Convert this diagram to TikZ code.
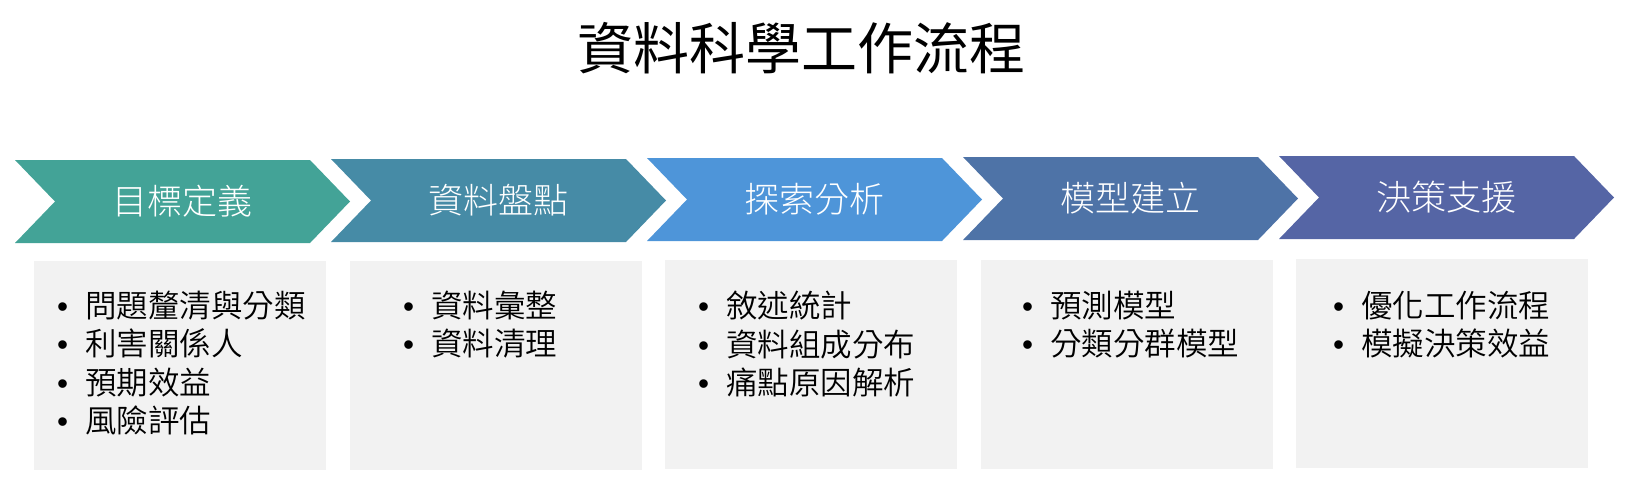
\documentclass[tikz,border=0pt]{standalone}
\usepackage{fontspec}
\setmainfont{Noto Sans CJK TC}
\newfontfamily\lightcjk{Noto Sans CJK TC Light}
\newfontfamily\demicjk{Noto Sans CJK TC DemiLight}
\newfontfamily\bulletfont{Liberation Sans}
\usepackage{xcolor}
\usepackage{tikz}
\usetikzlibrary{positioning, calc}
\definecolor{goalteal}{HTML}{43A397}
\definecolor{datablue}{HTML}{468BA6}
\definecolor{edasky}{HTML}{4E95D9}
\definecolor{modelblue}{HTML}{4E73A7}
\definecolor{decisionblue}{HTML}{5565A5}
\definecolor{boxgray}{HTML}{F2F2F2}
\newcommand{\itembullet}{\makebox[28pt][l]{\bulletfont •}}

\begin{document}
\begin{tikzpicture}[x=1pt, y=-1pt,
    chevlabel/.style={text=white, inner sep=0pt, font=\lightcjk\fontsize{35}{40}\selectfont},
    itemtext/.style={anchor=north west, align=left, inner sep=0pt,
                     font=\demicjk\fontsize{31.5}{38.3}\selectfont}]
    \useasboundingbox (0,0) rectangle (1637,485);
    \node[inner sep=0pt, font=\fontsize{56}{60}\selectfont] (title) at (801,48) {資料科學工作流程};
    % steps
    \foreach \i/\name/\col/\lab in {0/goal/goalteal/目標定義, 1/data/datablue/資料盤點,
        2/eda/edasky/探索分析, 3/model/modelblue/模型建立, 4/decision/decisionblue/決策支援}{
      \pgfmathsetmacro\x{15+316*\i}
      \pgfmathsetmacro\y{160-\i}
      \fill[\col] (\x,\y) -- ++(295,0) -- ++(40,41.5) -- ++(-40,41.5) -- ++(-295,0)
        -- ++(40,-41.5) -- cycle;
      \node[chevlabel] (\name) at (\x+167.5,\y+41.5) {\lab};
    }
    % item boxes
    \foreach \i/\name/\tx/\items in {
        0/goallist/57/{\itembullet 問題釐清與分類\\ \itembullet 利害關係人\\ \itembullet 預期效益\\ \itembullet 風險評估},
        1/datalist/403/{\itembullet 資料彙整\\ \itembullet 資料清理},
        2/edalist/698/{\itembullet 敘述統計\\ \itembullet 資料組成分布\\ \itembullet 痛點原因解析},
        3/modellist/1022/{\itembullet 預測模型\\ \itembullet 分類分群模型},
        4/decisionlist/1333/{\itembullet 優化工作流程\\ \itembullet 模擬決策效益}}{
      \fill[boxgray] (34+315.5*\i,261-\i/2) rectangle ++(292,209);
      \node[itemtext] (\name) at (\tx,291) {\items};
    }
\end{tikzpicture}
\end{document}
